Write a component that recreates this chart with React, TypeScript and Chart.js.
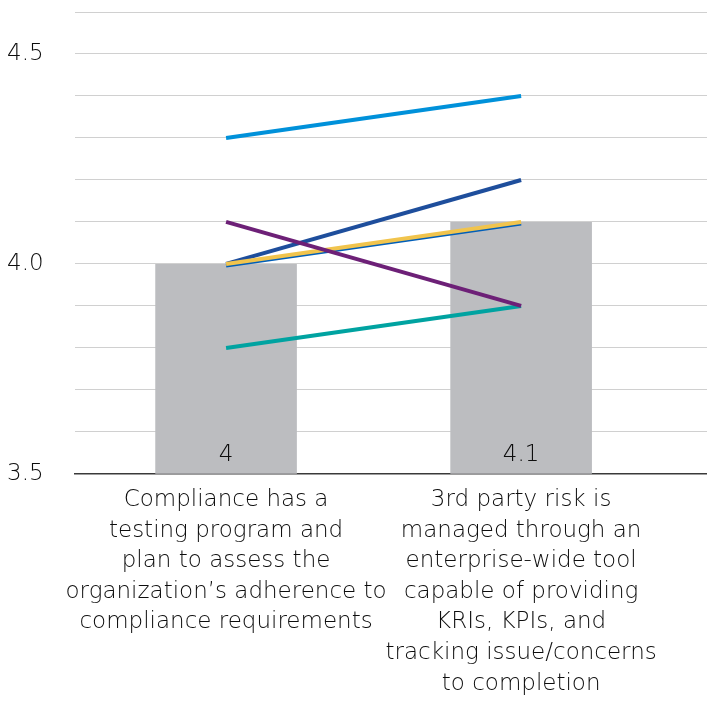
import React, { useEffect, useRef } from "react";
import { Chart, registerables } from "chart.js";

Chart.register(...registerables);

const categories: string[][] = [
  ["Compliance has a", "testing program and", "plan to assess the", "organization’s adherence to", "compliance requirements"],
  ["3rd party risk is", "managed through an", "enterprise-wide tool", "capable of providing", "KRIs, KPIs, and", "tracking issue/concerns", "to completion"],
];
const categoryPositions = [1, 2];
const barValues = [4, 4.1];
const lightBlue = [4.3, 4.4];
const darkBlue = [4.0, 4.2];
const yellow = [4.0, 4.1];
const midBlue = [3.996, 4.096];
const purple = [4.1, 3.9];
const teal = [3.8, 3.9];
const yLabelValues = [3.5, 4.0, 4.5];

const FONT = "'DejaVu Sans'";
const WEIGHT = "200";
const TEXT = "#0d0d0d";

const barLabelPlugin = {
  id: "barLabels",
  afterDatasetsDraw(chart: any) {
    const meta = chart.getDatasetMeta(0);
    const ctx = chart.ctx;
    const baseY = chart.scales.y.getPixelForValue(chart.scales.y.min);
    ctx.save();
    ctx.font = `${WEIGHT} 23px ${FONT}`;
    ctx.fillStyle = TEXT;
    ctx.textAlign = "center";
    ctx.textBaseline = "middle";
    meta.data.forEach((el: any, i: number) => {
      ctx.fillText(String(barValues[i]), el.x, baseY - 19);
    });
    ctx.restore();
  },
};

function lineDs(label: string, values: number[], color: string, order: number) {
  return {
    type: "line" as const,
    label,
    data: values.map((v, i) => ({ x: categoryPositions[i], y: v })),
    borderColor: color,
    backgroundColor: color,
    borderWidth: 4,
    pointRadius: 0,
    order,
  };
}

export default function App() {
  const ref = useRef<HTMLCanvasElement>(null);
  useEffect(() => {
    document.body.style.margin = "0";
    const chart = new Chart(ref.current!, {
      type: "bar",
      data: {
        datasets: [
          {
            type: "bar",
            label: "Average",
            data: barValues.map((v, i) => ({ x: categoryPositions[i], y: v })),
            backgroundColor: "#BCBDC0",
            barPercentage: 0.48,
            categoryPercentage: 1,
            order: 10,
          } as any,
          lineDs("A", teal, "#00A3A1", 6),
          lineDs("B", lightBlue, "#0091DA", 5),
          lineDs("C", darkBlue, "#1E4E9C", 4),
          lineDs("D", midBlue, "#005EB8", 3),
          lineDs("E", yellow, "#F1C44D", 2),
          lineDs("F", purple, "#6D2077", 1),
        ],
      },
      options: {
        animation: false,
        responsive: false,
        layout: { padding: { left: 7, top: 0, right: 0, bottom: 6 } },
        plugins: { legend: { display: false }, tooltip: { enabled: false } },
        scales: {
          x: {
            type: "linear",
            offset: false,
            min: 0.488,
            max: 2.63,
            afterBuildTicks: (scale: any) => {
              scale.ticks = categoryPositions.map((v) => ({ value: v }));
            },
            grid: { display: false },
            border: { display: true, color: "#3a3a3a", width: 1.5 },
            ticks: {
              autoSkip: false,
              maxRotation: 0,
              padding: 3,
              color: TEXT,
              font: { family: FONT, size: 23, weight: WEIGHT as any, lineHeight: 1.33 },
              callback: (v: any) => {
                const idx = categoryPositions.indexOf(Number(v));
                return idx >= 0 ? categories[idx] : "";
              },
            },
          },
          y: {
            min: 3.5,
            max: 4.6,
            afterFit: (scale: any) => {
              scale.width = 68;
              scale.paddingTop = 12;
            },
            grid: { color: "#d0d0d0", lineWidth: 1, drawTicks: false },
            border: { display: false },
            ticks: {
              stepSize: 0.1,
              crossAlign: "far",
              color: TEXT,
              font: { family: FONT, size: 23, weight: WEIGHT as any },
              callback: (v: any) => {
                const n = Number(v);
                const hit = yLabelValues.find((t) => Math.abs(t - n) < 1e-6);
                return hit !== undefined ? hit.toFixed(1) : "";
              },
            },
          },
        },
      },
      plugins: [barLabelPlugin],
    } as any);
    return () => chart.destroy();
  }, []);
  return (
    <div style={{ width: 707, height: 708 }}>
      <canvas ref={ref} width={707} height={708} style={{ display: "block" }} />
    </div>
  );
}
